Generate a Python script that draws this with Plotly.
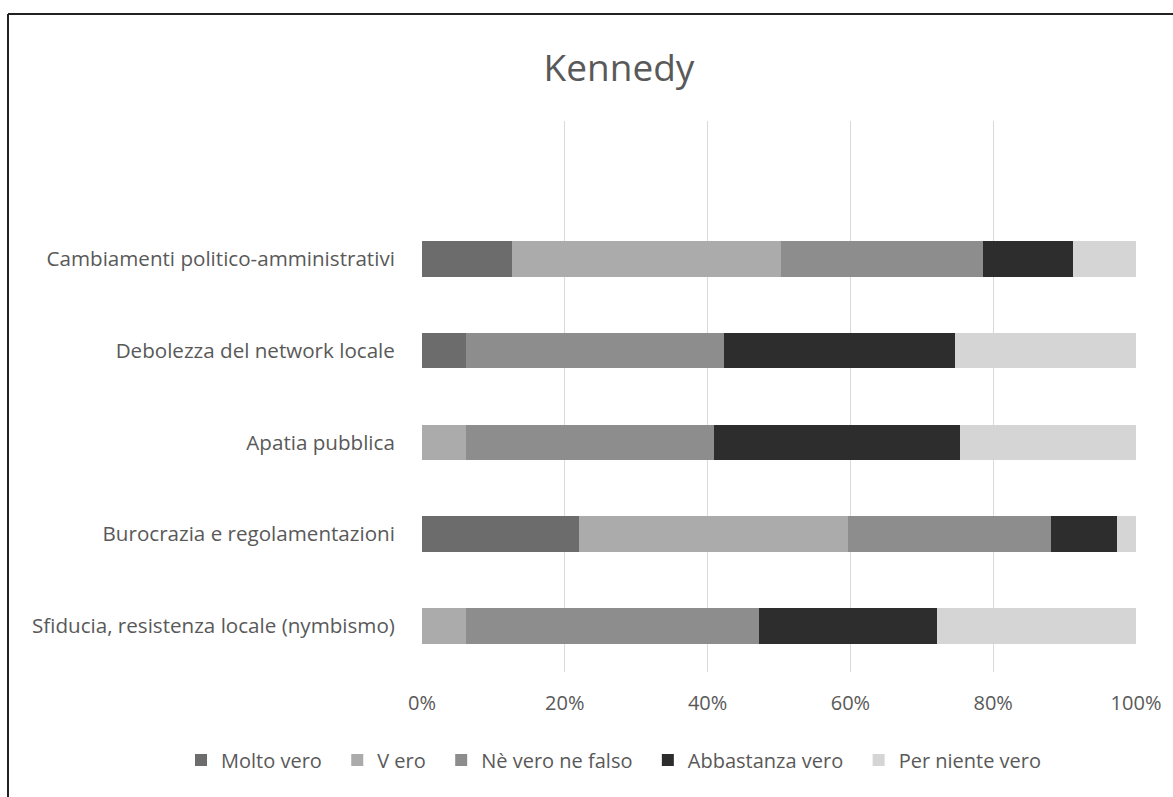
import plotly.graph_objects as go

categories = [
    "Cambiamenti politico-amministrativi",
    "Debolezza del network locale",
    "Apatia pubblica",
    "Burocrazia e regolamentazioni",
    "Sfiducia, resistenza locale (nymbismo)",
]
series_names = ["Molto vero", "V ero", "Nè vero ne falso", "Abbastanza vero", "Per niente vero"]
molto_vero = [12.6, 6.1, 0.0, 22.0, 0.0]
v_ero = [37.7, 0.0, 6.1, 37.6, 6.1]
ne_vero_ne_falso = [28.3, 36.2, 34.8, 28.5, 41.1]
abbastanza_vero = [12.6, 32.3, 34.4, 9.2, 24.9]
per_niente_vero = [8.8, 25.4, 24.7, 2.7, 27.9]
x_ticks = [0, 20, 40, 60, 80, 100]
x_tick_labels = ["0%", "20%", "40%", "60%", "80%", "100%"]

colors = ["#6c6c6c", "#ababab", "#8d8d8d", "#2d2d2d", "#d5d5d5"]
values = [molto_vero, v_ero, ne_vero_ne_falso, abbastanza_vero, per_niente_vero]

fig = go.Figure()
for i, (name, vals, col) in enumerate(zip(series_names, values, colors)):
    pad = "\u00a0\u00a0" if i < len(series_names) - 1 else ""
    fig.add_trace(go.Bar(
        y=categories, x=vals, name=name + pad, orientation="h",
        marker=dict(color=col, line=dict(width=0)),
        hovertemplate=name + ": %{x}%<extra></extra>",
    ))

W, H = 1173, 797
L, R, T, B = 422, 37, 121, 125
pw, ph = W - L - R, H - T - B

fig.update_layout(
    width=W, height=H,
    barmode="stack", bargap=0.61,
    paper_bgcolor="white", plot_bgcolor="white",
    margin=dict(l=L, r=R, t=T, b=B, autoexpand=False),
    font=dict(family="Open Sans, sans-serif", size=20, color="#595959"),
    title=dict(text="Kennedy", x=(619) / W, xanchor="center", y=1 - 68 / H, yanchor="middle",
               font=dict(size=37, color="#595959")),
    showlegend=True,
    legend=dict(orientation="h", x=(181 - L) / pw, xanchor="left", y=(672 - 760) / ph,
                yanchor="middle", font=dict(size=20, color="#595959"), traceorder="normal",
                itemwidth=30, tracegroupgap=0),
    xaxis=dict(range=[0, 100], tickvals=x_ticks, ticktext=x_tick_labels, showgrid=True,
               gridcolor="#d9d9d9", gridwidth=1, zeroline=False, showline=False,
               ticks="outside", ticklen=13, tickcolor="rgba(0,0,0,0)",
               tickfont=dict(size=20, color="#595959"), fixedrange=True),
    yaxis=dict(categoryorder="array", categoryarray=categories[::-1], range=[-0.5, 5.5],
               showgrid=False, zeroline=False, showline=False, ticks="outside",
               ticklen=22, tickcolor="rgba(0,0,0,0)",
               tickfont=dict(size=20.6, color="#595959"), fixedrange=True),
    shapes=[
        dict(type="line", xref="paper", yref="paper", x0=(8 - L) / pw, x1=(W + 5 - L) / pw,
             y0=(H - B - 14) / ph, y1=(H - B - 14) / ph, line=dict(color="#222222", width=2)),
        dict(type="line", xref="paper", yref="paper", x0=(8 - L) / pw, x1=(8 - L) / pw,
             y0=(H - B - 14) / ph, y1=-B / ph - 0.02, line=dict(color="#222222", width=2)),
    ],
)

fig.write_html("out.html", config={"displayModeBar": False},
               post_script="document.body.style.margin='0';document.body.style.overflow='hidden';")
